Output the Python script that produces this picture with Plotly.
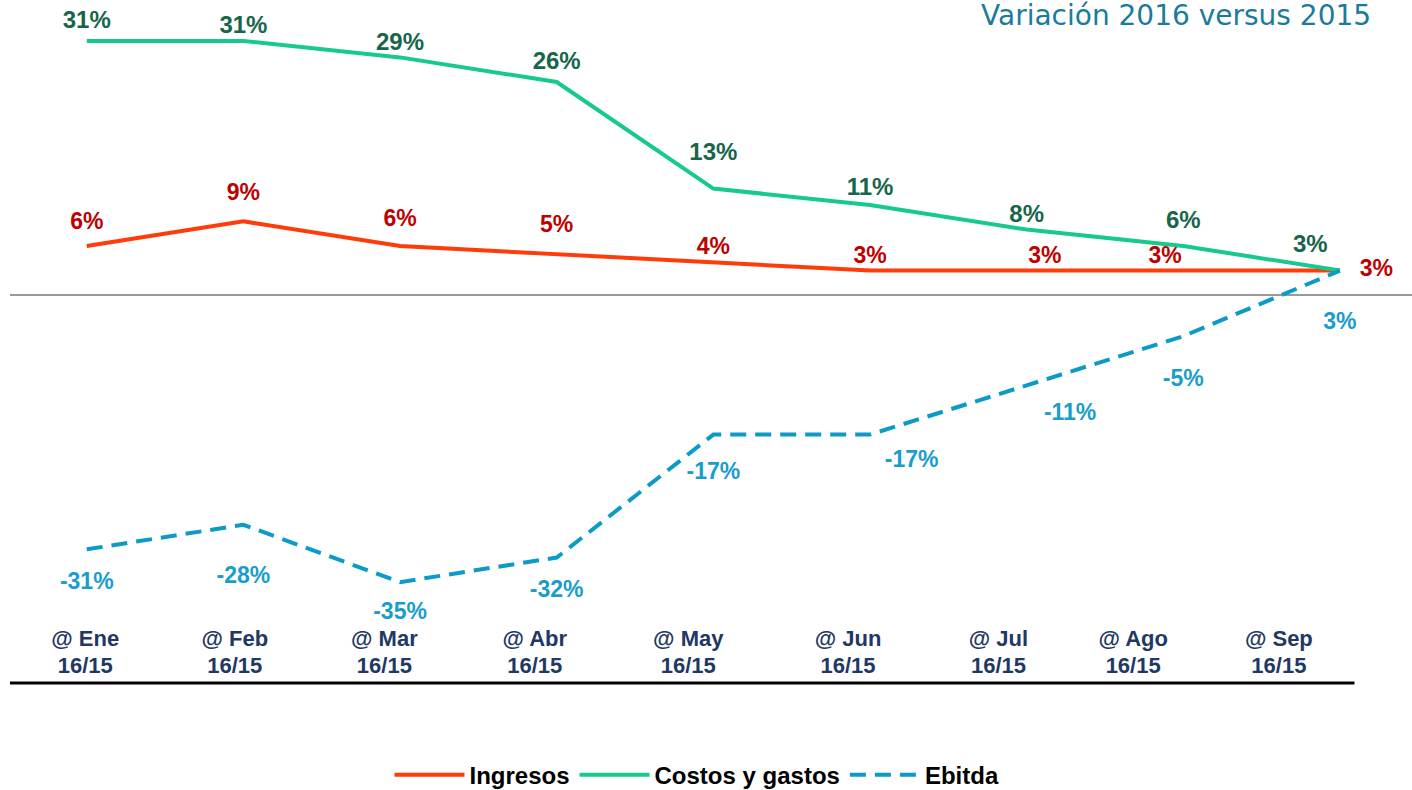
import plotly.graph_objects as go

# Data
meses = ['@ Ene', '@ Feb', '@ Mar', '@ Abr', '@ May', '@ Jun', '@ Jul', '@ Ago', '@ Sep']
periodo = ['16/15'] * 9
ingresos = [6, 9, 6, 5, 4, 3, 3, 3, 3]
costos = [31, 31, 29, 26, 13, 11, 8, 6, 3]
ebitda = [-31, -28, -35, -32, -17, -17, -11, -5, 3]

x = list(range(len(meses)))
# the category row under the chart is not aligned with the points in the original
tick_pos = [-0.01, 0.945, 1.90, 2.86, 3.84, 4.86, 5.82, 6.68, 7.61]

ROJO = '#FF3B0A'
VERDE = '#16C98D'
AZUL = '#0C9AC7'
HIDDEN = dict(color='rgba(0,0,0,0)', line=dict(width=0))

def pct(vals):
    return ['%d%%' % v for v in vals]

fig = go.Figure()

# invisible markers are only used to push each label away from its point
fig.add_trace(go.Scatter(
    x=x, y=ingresos, name='Ingresos', mode='lines+markers+text',
    line=dict(color=ROJO, width=4),
    marker=dict(size=[17, 23, 21, 25, 2, 1, 1, 1, 30], **HIDDEN),
    text=pct(ingresos),
    textposition=['top center'] * 6 + ['top right', 'top left', 'middle right'],
    textfont=dict(family='Liberation Sans', size=23, color='#C00000', weight='bold'),
    cliponaxis=False, hoverinfo='skip'
))

fig.add_trace(go.Scatter(
    x=x, y=costos, name='Costos y gastos', mode='lines+markers+text',
    line=dict(color=VERDE, width=4),
    marker=dict(size=[9, 1, 1, 9, 35, 5, 1, 17, 18], **HIDDEN),
    text=pct(costos),
    textposition=['top center'] * 8 + ['top left'],
    textfont=dict(family='Liberation Sans', size=24, color='#17664A', weight='bold'),
    cliponaxis=False, hoverinfo='skip'
))

fig.add_trace(go.Scatter(
    x=x, y=ebitda, name='Ebitda', mode='lines+markers+text',
    line=dict(color=AZUL, width=4, dash='16px,9px'),
    marker=dict(size=[34, 64, 30, 34, 42, 22, 26, 50, 64], **HIDDEN),
    text=pct(ebitda),
    textposition=['bottom center'] * 5 + ['bottom right', 'bottom right', 'bottom center', 'bottom center'],
    textfont=dict(family='Liberation Sans', size=23, color='#1A9DCB', weight='bold'),
    cliponaxis=False, hoverinfo='skip'
))

# empty trace so that the second category row (16/15) gets drawn
fig.add_trace(go.Scatter(x=x, y=[None] * len(x), xaxis='x2', mode='lines',
                         showlegend=False, hoverinfo='skip'))

tick_font = dict(family='Liberation Sans', size=22, color='#1F3864', weight='bold')

fig.update_layout(
    width=1412, height=790,
    paper_bgcolor='white', plot_bgcolor='white',
    margin=dict(l=10, r=0, t=0, b=107, autoexpand=False),
    showlegend=True,
    legend=dict(orientation='h', x=0.49, xanchor='center', y=-0.135, yanchor='middle',
                font=dict(family='Liberation Sans', size=24, color='black', weight='bold'),
                itemwidth=70),
    xaxis=dict(range=[-0.49, 8.46], tickvals=tick_pos, ticktext=meses,
               ticklabelposition='inside', ticklabelstandoff=30, ticks='',
               showgrid=False, zeroline=False, showline=False, tickfont=tick_font),
    xaxis2=dict(range=[-0.49, 8.46], overlaying='x', anchor='y', side='bottom',
                tickvals=tick_pos, ticktext=periodo,
                ticklabelposition='inside', ticklabelstandoff=3, ticks='',
                showgrid=False, zeroline=False, showline=False, tickfont=tick_font),
    yaxis=dict(range=[-47.3, 36], showticklabels=False, showgrid=False,
               zeroline=True, zerolinecolor='#9A9A9A', zerolinewidth=1.5),
    shapes=[dict(type='line', xref='paper', yref='paper', x0=0, x1=0.959, y0=0, y1=0,
                 line=dict(color='black', width=3))],
    annotations=[dict(text='Variación 2016 versus 2015', xref='paper', yref='paper',
                      x=0.972, y=1.0, xanchor='right', yanchor='top', yshift=3,
                      showarrow=False,
                      font=dict(family='DejaVu Sans', size=28, color='#1B7B9B'))]
)

fig.write_html('out.html', config={'displayModeBar': False},
               post_script="document.body.style.margin='0';")
